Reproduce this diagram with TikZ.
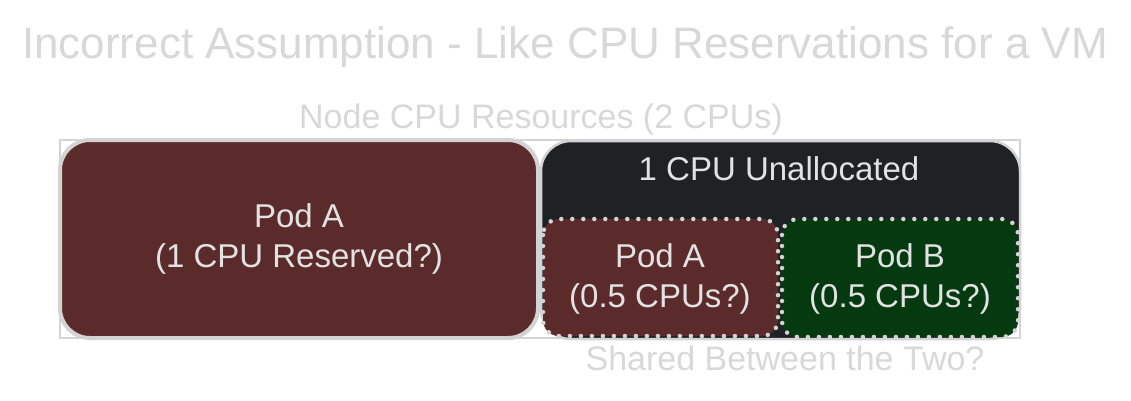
\documentclass[tikz,border=0pt]{standalone}
\usepackage{fontspec}
\setmainfont{Liberation Sans}
\definecolor{podbrown}{HTML}{5B2B2C}
\definecolor{darkbox}{HTML}{1F2225}
\definecolor{podgreen}{HTML}{053A11}
\definecolor{edgegray}{HTML}{D3D3D3}
\definecolor{lighttext}{HTML}{D8D8D8}
\definecolor{boxtext}{HTML}{E2E2E2}
\tikzset{
  boxlabel/.style={text=boxtext, font=\fontsize{33}{40}\selectfont, align=center, inner sep=0pt},
  paletext/.style={text=lighttext, inner sep=0pt},
  dotbox/.style={draw=edgegray, line width=4.5pt, dash pattern=on 0pt off 11pt, line cap=round, rounded corners=16pt},
}
\begin{document}
\begin{tikzpicture}[x=1pt,y=1pt]
\useasboundingbox (0,0) rectangle (1131,-400);
\fill[white] (0,0) rectangle (1131,-400);
% title
\node[paletext, font=\fontsize{44}{50}\selectfont] (title) at (565,-47) {Incorrect Assumption - Like CPU Reservations for a VM};
\node[paletext, font=\fontsize{34}{40}\selectfont] (nodecpu) at (541,-120) {Node CPU Resources (2 CPUs)};
% outer container
\draw[edgegray, line width=1.5pt] (60,-140) rectangle (1020,-338);
% Pod A big
\draw[fill=podbrown, draw=edgegray, line width=4pt, rounded corners=30pt] (60,-140) rectangle (538,-338);
\node[boxlabel] (podabig) at (299,-239) {Pod A\\(1 CPU Reserved?)};
% Unallocated
\draw[fill=darkbox, draw=edgegray, line width=2.5pt, rounded corners=30pt] (541,-141) rectangle (1020,-339);
\node[boxlabel] (unalloc) at (779,-169) {1 CPU Unallocated};
% Pod A small
\draw[fill=podbrown, dotbox] (543,-219) rectangle (778,-336);
\node[boxlabel] (podasmall) at (660,-279) {Pod A\\(0.5 CPUs?)};
% Pod B
\draw[fill=podgreen, dotbox] (782,-219) rectangle (1018,-337);
\node[boxlabel] (podb) at (900,-279) {Pod B\\(0.5 CPUs?)};
% shared
\node[paletext, font=\fontsize{34}{40}\selectfont] (shared) at (785,-358) {Shared Between the Two?};
\end{tikzpicture}
\end{document}
